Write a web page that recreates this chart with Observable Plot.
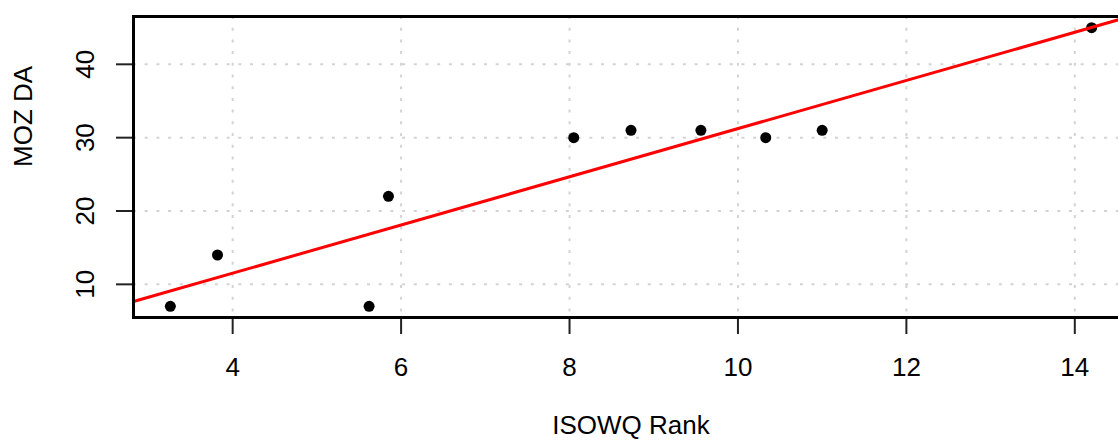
<!DOCTYPE html>
<html>
<head>
<meta charset="utf-8">
<script src="https://cdn.jsdelivr.net/npm/d3@7"></script>
<script src="https://cdn.jsdelivr.net/npm/@observablehq/plot@0.6"></script>
<style>
  html, body { margin: 0; padding: 0; background: #fff; overflow: hidden; }
</style>
</head>
<body>
<div id="chart"></div>
<script>
// Data
const isowqRank = [3.26, 3.82, 5.62, 5.85, 8.05, 8.73, 9.56, 10.33, 11.0, 14.2];
const mozDA     = [7, 14, 7, 22, 30, 31, 31, 30, 31, 45];
const xTicks = [4, 6, 8, 10, 12, 14];
const yTicks = [10, 20, 30, 40];
const xTitle = "ISOWQ Rank";
const yTitle = "MOZ DA";

const points = isowqRank.map((x, i) => ({x, y: mozDA[i]}));

// R-style axis extension (4% each side)
function ext(vals) {
  const [a, b] = d3.extent(vals);
  const p = (b - a) * 0.04;
  return [a - p, b + p];
}
const xDomain = ext(isowqRank);
const yDomain = ext(mozDA);

// least-squares fit (abline(lm(y ~ x)))
const mx = d3.mean(isowqRank), my = d3.mean(mozDA);
const sxy = d3.sum(points, d => (d.x - mx) * (d.y - my));
const sxx = d3.sum(points, d => (d.x - mx) ** 2);
const slope = sxy / sxx, intercept = my - slope * mx;
const fit = xDomain.map(x => ({x, y: intercept + slope * x}));

const FS = 26;
const chart = Plot.plot({
  width: 1118,
  height: 441,
  marginTop: 16,
  marginBottom: 124,
  marginLeft: 133,
  marginRight: -10,
  style: {fontFamily: "'Liberation Sans', Arial, sans-serif", background: "#fff", color: "#000"},
  x: {domain: xDomain},
  y: {domain: yDomain},
  marks: [
    Plot.gridX(xTicks, {stroke: "#d3d3d3", strokeOpacity: 1, strokeWidth: 2, strokeDasharray: "3,8.7"}),
    Plot.gridY(yTicks, {stroke: "#d3d3d3", strokeOpacity: 1, strokeWidth: 2, strokeDasharray: "3,8.7"}),
    Plot.axisX(xTicks, {tickSize: 17, tickPadding: 23, fontSize: FS, fill: "#000", stroke: "#222", strokeWidth: 2, label: null}),
    Plot.axisY(yTicks, {tickSize: 17, fill: "none", stroke: "#222", strokeWidth: 2, label: null}),
    Plot.text(yTicks, {y: d => d, text: d => String(d), frameAnchor: "left", dx: -48, rotate: -90, fontSize: FS, fill: "#000", lineAnchor: "middle", textAnchor: "middle"}),
    Plot.text([xTitle], {text: d => d, frameAnchor: "bottom", dy: 116, fontSize: FS, fill: "#000", lineAnchor: "bottom"}),
    Plot.text([yTitle], {text: d => d, frameAnchor: "left", dx: -110, rotate: -90, fontSize: FS, fill: "#000", lineAnchor: "middle"}),
    Plot.dot(points, {x: "x", y: "y", r: 5.5, fill: "#000", stroke: null}),
    Plot.line(fit, {x: "x", y: "y", stroke: "#ff0000", strokeWidth: 3, clip: "frame"}),
    Plot.frame({stroke: "#000", strokeWidth: 3})
  ]
});
document.getElementById("chart").appendChild(chart);
</script>
</body>
</html>
